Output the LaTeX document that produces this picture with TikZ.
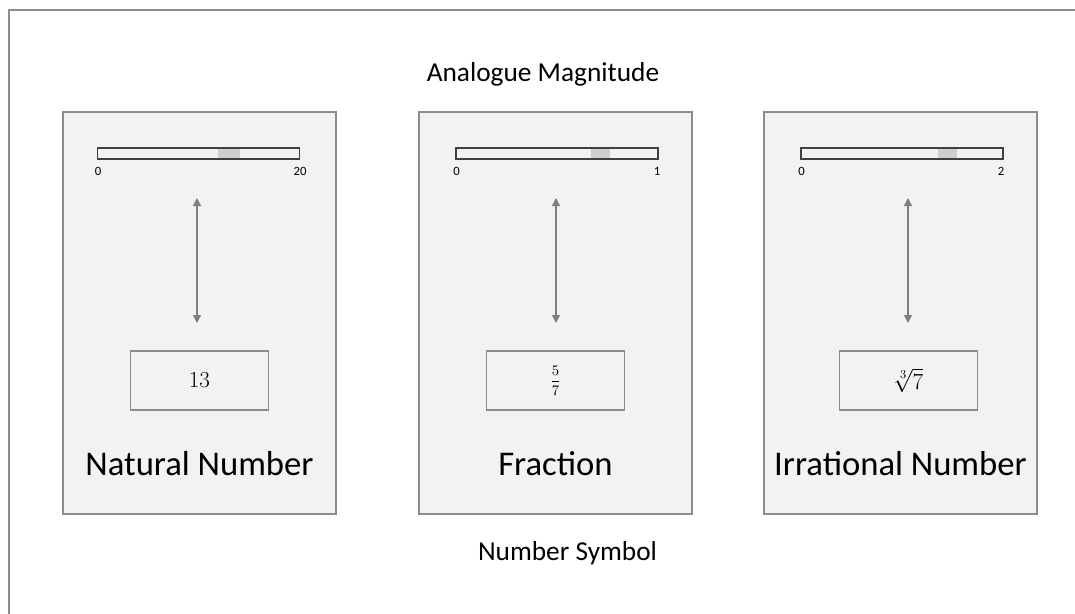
\documentclass[tikz,border=0pt]{standalone}
\usepackage{fontspec}
\setmainfont{Carlito}
\usepackage{amsmath}
\usetikzlibrary{arrows.meta, positioning}

\definecolor{panelfill}{HTML}{F2F2F2}
\definecolor{edgegray}{HTML}{8C8C8C}
\definecolor{markgray}{HTML}{D0CECE}
\definecolor{arrowgray}{HTML}{7F7F7F}
\definecolor{bargray}{HTML}{404040}

\begin{document}
\begin{tikzpicture}[x=0.75pt, y=-0.75pt,
  panel/.style={rectangle, draw=edgegray, line width=1.1pt, fill=panelfill,
    minimum width=204.75pt, minimum height=301.5pt, inner sep=0pt},
  scalebar/.style={rectangle, draw=bargray, line width=0.9pt, fill=panelfill,
    minimum width=151.5pt, minimum height=8.25pt, inner sep=0pt},
  ticklbl/.style={inner sep=0pt, font=\fontsize{9.5}{11}\selectfont},
  symbox/.style={rectangle, draw=edgegray, line width=0.9pt,
    minimum width=103.5pt, minimum height=44.25pt, inner sep=0pt},
  twoway/.style={arrowgray, line width=0.9pt,
    {Triangle[width=6pt,length=6pt]}-{Triangle[width=6pt,length=6pt]}},
  caption/.style={inner sep=0pt, font=\fontsize{20.5}{24}\selectfont},
  kind/.style={inner sep=0pt, font=\fontsize{26}{30}\selectfont}]

\useasboundingbox (0,0) rectangle (1075,614);

% outer frame (only top and left edges are inside the page)
\draw[edgegray, line width=1.5pt] (9,614) -- (9,10) -- (1075,10);

% the three panels
\foreach \i/\cx/\bx/\gl/\gr/\mx/\mxx/\ax/\sx/\sym/\name in {
  1/199.5/198.5/218/240/20/300/197/199.5/{\fontsize{18}{20}\selectfont$13$}/Natural Number,
  2/555.5/557/591/610/1/657/556/555.5/{\fontsize{11}{13}\selectfont$\dfrac{5}{7}$}/Fraction,
  3/900.5/902/938/957/2/1001/908/908.5/{\fontsize{18}{20}\selectfont$\sqrt[3]{7}$}/Irrational Number} {

  \node[panel] (p\i) at (\cx,313) {};

  % magnitude bar with marked segment
  \node[scalebar] (bar\i) at (\bx,153.5) {};
  \fill[markgray] (\gl,148.8) rectangle (\gr,158.2);
  \node[ticklbl] (lo\i) at (\bx-100.5,171) {0};
  \node[ticklbl] (hi\i) at (\mxx,171) {\mx};

  % symbol box
  \node[symbox] (s\i) at (\sx,380.5) {\sym};

  % link between magnitude and symbol
  \coordinate (up\i) at (\ax,198);
  \coordinate (dn\i) at (\ax,323);
  \draw[twoway] (up\i) -- (dn\i);

  \node[kind] (k\i) at (\cx,464) {\name};
}

\node[caption] (top) at (543,74) {Analogue Magnitude};
\node[caption] (bottom) at (567.5,553) {Number Symbol};

\end{tikzpicture}
\end{document}
